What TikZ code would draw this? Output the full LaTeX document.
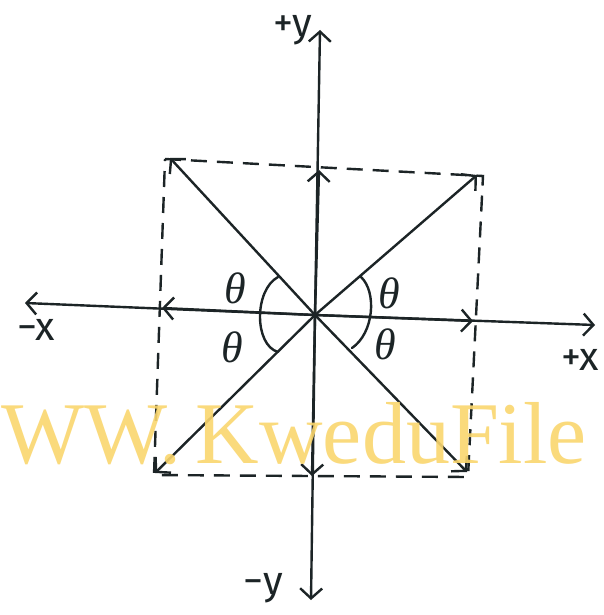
\documentclass[tikz,border=0pt]{standalone}
\usepackage{fontspec}
\setmainfont{Liberation Serif}
\newfontfamily\handfont{Fira Sans}
\newfontfamily\thfont{Liberation Serif}
\usetikzlibrary{arrows.meta}
\definecolor{ink}{RGB}{28,36,38}
\definecolor{wmark}{RGB}{250,214,110}
\begin{document}
\begin{tikzpicture}[x=1pt,y=-1pt,
  ln/.style={draw=ink, line width=2.4pt, line cap=round},
  arr/.style={ln, -{Straight Barb[length=10pt,width=22pt]}},
  dsh/.style={draw=ink, line width=2.4pt, dash pattern=on 16pt off 10pt},
  lbl/.style={font=\handfont\fontsize{40}{40}\selectfont, text=ink, inner sep=0pt},
  th/.style={font=\thfont\itshape\fontsize{44}{44}\selectfont, text=ink, inner sep=0pt}]
\useasboundingbox (0,0) rectangle (603,615);
\fill[white] (0,0) rectangle (603,615);
% key points
\coordinate (O) at (315,315);
\coordinate (xl) at (25,303);
\coordinate (xr) at (595,325);
\coordinate (yt) at (320,30);
\coordinate (yb) at (311,600);
\coordinate (xli) at (162,308);
\coordinate (xri) at (473,321);
\coordinate (yti) at (319,170);
\coordinate (ybi) at (312,476);
\coordinate (TL) at (170,158);
\coordinate (TR) at (477,175);
\coordinate (BR) at (467,472);
\coordinate (BL) at (155,473);
% dashed rectangle
\draw[dsh] (165,159) -- (483,176) -- (468,477) -- (154,475) -- cycle;
% axes
\draw[arr] (O) -- (xl);
\draw[arr] (O) -- (xr);
\draw[arr] (O) -- (yt);
\draw[arr] (O) -- (yb);
\draw[arr] (O) -- (xli);
\draw[arr] (O) -- (xri);
\draw[arr] (O) -- (yti);
\draw[arr] (O) -- (ybi);
% diagonals
\draw[arr] (O) -- (TL);
\draw[arr] (O) -- (TR);
\draw[arr] (O) -- (BR);
\draw[arr] (O) -- (BL);
% angle arcs
\draw[ln] (278,277) .. controls (254,290) and (254,345) .. (278,352);
\draw[ln] (361,277) .. controls (377,292) and (374,333) .. (352,348);
% labels
\node[lbl] (py) at (293,30) {+y};
\node[lbl] (my) at (263,588) {−y};
\node[lbl] (mx) at (36,330) {−x};
\node[lbl] (px) at (580,360) {+x};
\node[th] (t1) at (235,288) {θ};
\node[th] (t2) at (232,347) {θ};
\node[th] (t3) at (389,293) {θ};
\node[th] (t4) at (385,344) {θ};
% watermark
\node[anchor=base west, inner sep=0pt, text=wmark, opacity=0.9,
  font=\fontsize{88}{88}\selectfont] (wm) at (1,463) {WW.\,KweduFile};
\end{tikzpicture}
\end{document}
